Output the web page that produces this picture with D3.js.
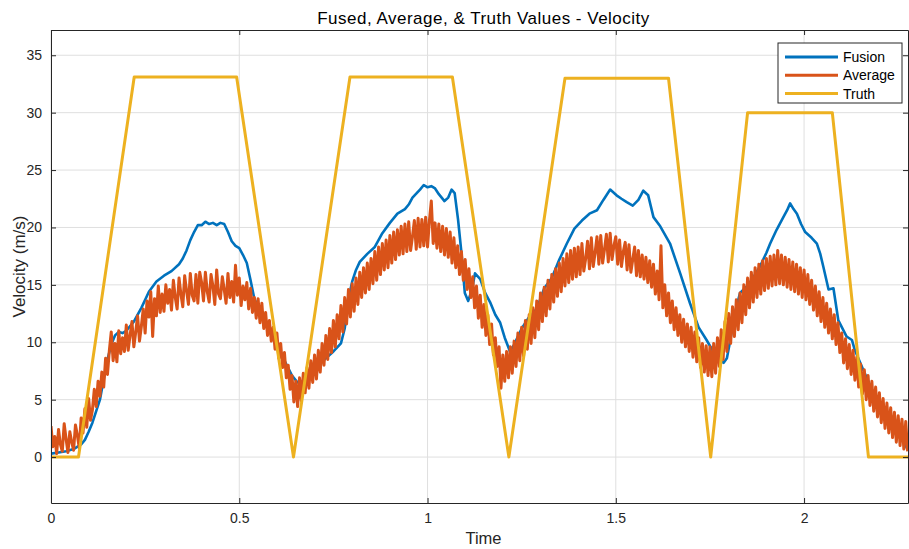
<!DOCTYPE html>
<html>
<head>
<meta charset="utf-8">
<script src="https://cdn.jsdelivr.net/npm/d3@7"></script>
<style>
  body { margin: 0; background: #fff; }
  svg { display: block; font-family: "Liberation Sans", Arial, Helvetica, sans-serif; }
</style>
</head>
<body>
<svg id="chart" width="909" height="549"></svg>
<script>
// truth profile (corner points)
var truthTime = [0, 0.073, 0.221, 0.493, 0.644, 0.794, 1.066, 1.216, 1.365, 1.640, 1.752, 1.850, 2.075, 2.171, 2.276]
var truthVel  = [0, 0, 33.1, 33.1, 0, 33.1, 33.1, 0, 33.0, 33.0, 0, 30.0, 30.0, 0, 0]

// fused estimate
var fusionTime = [0, 0.02, 0.04, 0.06, 0.08, 0.09, 0.10, 0.11, 0.12, 0.13, 0.14, 0.15, 0.16, 0.17, 0.18, 0.19,
  0.20, 0.22, 0.24, 0.26, 0.28, 0.30, 0.32, 0.34, 0.35, 0.36, 0.37, 0.38, 0.39, 0.40, 0.41, 0.42, 0.43, 0.44,
  0.45, 0.46, 0.47, 0.48, 0.49, 0.50, 0.51, 0.52, 0.53, 0.54, 0.56, 0.58, 0.60, 0.62, 0.64, 0.655, 0.67, 0.69,
  0.71, 0.73, 0.75, 0.77, 0.78, 0.79, 0.80, 0.81, 0.82, 0.84, 0.86, 0.88, 0.90, 0.92, 0.94, 0.95, 0.96, 0.98,
  0.99, 1.00, 1.01, 1.02, 1.03, 1.045, 1.055, 1.064, 1.072, 1.081, 1.090, 1.099, 1.108, 1.118, 1.126, 1.14,
  1.153, 1.166, 1.18, 1.193, 1.205, 1.219, 1.23, 1.25, 1.27, 1.29, 1.31, 1.33, 1.35, 1.37, 1.39, 1.41, 1.43,
  1.45, 1.467, 1.485, 1.502, 1.515, 1.529, 1.545, 1.56, 1.573, 1.586, 1.60, 1.618, 1.644, 1.671, 1.697, 1.72,
  1.741, 1.764, 1.786, 1.795, 1.803, 1.815, 1.830, 1.852, 1.868, 1.883, 1.90, 1.91, 1.927, 1.945, 1.955,
  1.963, 1.972, 1.981, 1.992, 2.003, 2.02, 2.034, 2.043, 2.051, 2.065, 2.078, 2.091, 2.113, 2.127, 2.135,
  2.157, 2.184, 2.205, 2.228, 2.25, 2.276]
var fusionVel = [0.3, 0.4, 0.5, 0.7, 1.1, 1.5, 2.2, 3.0, 4.0, 5.0, 6.8, 8.5, 9.8, 10.6, 10.9, 10.8,
  11.0, 11.8, 13.0, 14.4, 15.3, 15.8, 16.2, 16.8, 17.3, 18.0, 18.9, 19.6, 20.2, 20.2, 20.5, 20.3, 20.4, 20.2,
  20.4, 20.3, 19.6, 18.8, 18.4, 18.2, 17.6, 16.9, 15.4, 13.8, 12.4, 11.0, 9.9, 8.4, 7.1, 6.5, 6.6, 7.2,
  8.0, 8.6, 9.2, 9.9, 11.2, 13.8, 15.3, 16.3, 17.0, 17.7, 18.3, 19.5, 20.4, 21.2, 21.6, 22.0, 22.6, 23.3,
  23.7, 23.5, 23.6, 23.4, 22.9, 22.3, 22.6, 23.3, 23.0, 20.7, 17.8, 14.3, 13.6, 14.6, 16.0, 15.5,
  14.3, 13.5, 12.4, 11.7, 10.4, 9.2, 9.8, 11.2, 12.2, 12.9, 14.7, 15.6, 17.2, 18.6, 19.9, 20.6, 21.2,
  21.5, 22.4, 23.3, 22.8, 22.5, 22.2, 21.9, 22.4, 23.2, 22.8, 20.9, 20.1, 18.6, 16.0, 13.4, 11.3,
  10.2, 8.9, 8.2, 8.6, 10.0, 12.4, 14.3, 15.0, 15.8, 16.6, 17.8, 18.6, 19.8, 20.9, 21.5,
  22.1, 21.6, 21.2, 20.3, 19.6, 19.1, 18.6, 17.7, 16.6, 14.6, 14.7, 11.9, 10.5, 10.2, 9.3,
  7.6, 5.6, 4.6, 3.5, 2.2, 0.6]

// plain average, sampled every 0.005 s (one row = 0.1 s)
var avgStep = 0.005
var avgVel = [
  2.7, 0.9, 1.8, 0.3, 2.4, 1.1, 0.5, 2.9, 1.6, 0.4, 2.2, 1.3, 0.6, 2.8, 1.9, 0.8, 3.4, 2.1, 4.2, 2.6,
  5.1, 3.2, 4.1, 5.9, 4.4, 6.6, 5.3, 7.4, 6.1, 8.6, 7.2, 9.3, 10.9, 8.4, 9.9, 8.3, 11.0, 9.0, 10.4, 9.2,
  11.5, 9.3, 10.6, 11.8, 9.6, 10.9, 12.3, 10.1, 11.4, 12.9, 10.8, 13.6, 12.2, 14.4, 10.5, 13.8, 12.3, 14.9, 12.6, 14.2,
  12.7, 15.0, 13.4, 14.6, 12.8, 15.4, 13.9, 12.9, 15.6, 14.2, 13.1, 15.8, 14.5, 13.3, 16.0, 14.1, 13.6, 15.9, 13.4, 16.1,
  15.2, 13.6, 16.1, 14.4, 13.5, 15.9, 14.9, 13.3, 16.3, 14.2, 13.8, 15.7, 14.6, 13.4, 16.0, 13.9, 15.3, 13.5, 16.7, 14.1,
  15.6, 13.2, 14.9, 13.7, 15.2, 12.9, 14.7, 12.6, 13.9, 12.1, 13.8, 11.7, 13.4, 11.2, 12.6, 10.6, 11.9, 10.1, 11.3, 9.4,
  10.8, 8.6, 9.9, 7.8, 9.1, 6.9, 8.0, 5.9, 7.1, 4.8, 6.6, 4.4, 6.9, 4.9, 7.3, 5.6, 7.8, 6.0, 8.4, 6.5,
  8.9, 6.8, 9.3, 7.4, 9.9, 8.0, 10.6, 8.5, 11.2, 9.1, 11.9, 9.6, 12.4, 10.3, 13.2, 10.9, 13.9, 11.6, 14.6, 12.2,
  15.1, 12.7, 15.6, 13.3, 16.1, 13.9, 16.5, 14.3, 16.9, 14.6, 17.3, 15.1, 17.9, 15.4, 18.3, 15.9, 18.6, 16.3, 18.9, 16.5,
  19.3, 16.9, 19.6, 17.2, 19.8, 17.6, 20.1, 17.7, 20.3, 17.9, 20.5, 18.0, 19.2, 20.6, 18.1, 20.8, 18.3, 20.7, 18.4, 20.9,
  18.3, 20.6, 22.3, 18.6, 20.4, 18.2, 20.3, 17.9, 20.1, 17.6, 19.9, 17.4, 19.6, 16.9, 19.1, 16.5, 18.4, 15.9, 17.9, 15.4,
  17.2, 14.6, 16.4, 13.9, 15.7, 13.0, 14.9, 12.1, 14.1, 11.3, 13.3, 10.6, 12.4, 9.8, 11.6, 8.9, 10.4, 7.9, 9.6, 6.0,
  8.9, 6.6, 9.2, 6.9, 9.6, 7.3, 10.1, 7.9, 10.8, 8.4, 11.3, 8.8, 11.9, 9.4, 12.4, 9.9, 13.0, 10.4, 13.6, 11.1,
  14.3, 11.8, 14.8, 12.3, 15.4, 12.9, 15.9, 13.5, 16.4, 14.0, 16.9, 14.4, 17.3, 14.9, 17.7, 15.2, 18.0, 15.5, 18.2, 15.7,
  18.3, 15.9, 18.6, 16.2, 17.3, 18.8, 16.4, 19.1, 16.6, 17.8, 19.2, 16.8, 19.3, 16.9, 18.1, 19.4, 17.0, 19.5, 17.2, 18.4,
  19.2, 16.8, 18.9, 16.6, 17.9, 18.7, 16.3, 18.5, 16.1, 17.2, 18.3, 15.8, 18.0, 15.7, 17.6, 15.5, 17.4, 15.2, 17.1, 14.8,
  16.8, 14.2, 16.2, 13.7, 18.4, 13.0, 15.0, 12.3, 14.3, 11.7, 13.6, 11.1, 13.0, 10.6, 12.4, 10.0, 12.0, 9.6, 11.6, 9.2,
  11.3, 8.7, 10.9, 8.3, 10.4, 7.8, 9.9, 7.4, 9.7, 7.1, 9.6, 7.0, 9.9, 7.3, 10.4, 7.9, 11.1, 8.5, 11.8, 9.2,
  12.5, 9.9, 13.1, 10.5, 13.7, 11.1, 14.3, 11.7, 15.0, 12.4, 15.6, 13.0, 16.1, 13.5, 16.5, 13.9, 16.8, 14.2, 17.1, 14.5,
  17.3, 14.7, 17.5, 14.9, 17.6, 15.0, 18.0, 15.1, 17.6, 15.0, 17.4, 14.8, 17.2, 14.6, 17.0, 14.4, 16.8, 14.2, 16.5, 13.9,
  16.3, 13.7, 15.9, 13.3, 15.4, 12.8, 14.9, 12.3, 14.4, 11.8, 13.9, 11.3, 13.4, 10.8, 12.9, 10.3, 12.4, 9.8, 11.7, 9.1,
  10.8, 8.2, 10.3, 7.7, 9.8, 7.2, 9.3, 6.7, 8.7, 6.1, 8.1, 5.5, 7.6, 5.0, 7.1, 4.5, 6.6, 4.0, 6.1, 3.5,
  5.6, 3.0, 5.1, 2.5, 4.7, 2.1, 4.3, 1.7, 3.9, 1.3, 3.6, 1.0, 3.3, 0.7, 3.1, 0.5]

var xTicks = [0, 0.5, 1, 1.5, 2]
var yTicks = [0, 5, 10, 15, 20, 25, 30, 35]
var seriesNames = ['Fusion', 'Average', 'Truth']
var seriesColors = ['#0072BD', '#D95319', '#EDB120']

var svg = d3.select('#chart')
var margin = { left: 51, right: 1, top: 30, bottom: 46 }
var W = 909, H = 549
var x = d3.scaleLinear().domain([0, 2.276]).range([margin.left, W - margin.right])
var y = d3.scaleLinear().domain([-4, 37.2]).range([H - margin.bottom, margin.top])

var axisColor = '#262626'

// grid
svg.append('g').selectAll('line').data(xTicks).enter().append('line')
  .attr('x1', function (d) { return x(d) }).attr('x2', function (d) { return x(d) })
  .attr('y1', y.range()[0]).attr('y2', y.range()[1])
  .attr('stroke', '#dfdfdf').attr('stroke-width', 1)
svg.append('g').selectAll('line').data(yTicks).enter().append('line')
  .attr('y1', function (d) { return y(d) }).attr('y2', function (d) { return y(d) })
  .attr('x1', x.range()[0]).attr('x2', x.range()[1])
  .attr('stroke', '#dfdfdf').attr('stroke-width', 1)

svg.append('clipPath').attr('id', 'plotclip').append('rect')
  .attr('x', x.range()[0]).attr('y', y.range()[1])
  .attr('width', x.range()[1] - x.range()[0]).attr('height', y.range()[0] - y.range()[1])

var line = d3.line()
  .x(function (d) { return x(d[0]) })
  .y(function (d) { return y(d[1]) })

var fusionData = fusionTime.map(function (t, i) { return [t, fusionVel[i]] })
var avgData = avgVel.map(function (v, i) { return [i * avgStep, v] })
var truthData = truthTime.map(function (t, i) { return [t, truthVel[i]] })

var plot = svg.append('g').attr('clip-path', 'url(#plotclip)')
plot.append('path').datum(fusionData).attr('d', line)
  .attr('fill', 'none').attr('stroke', seriesColors[0]).attr('stroke-width', 2.6)
  .attr('stroke-linejoin', 'round')
plot.append('path').datum(avgData).attr('d', line)
  .attr('fill', 'none').attr('stroke', seriesColors[1]).attr('stroke-width', 3)
  .attr('stroke-linejoin', 'round')
plot.append('path').datum(truthData).attr('d', line)
  .attr('fill', 'none').attr('stroke', seriesColors[2]).attr('stroke-width', 3)
  .attr('stroke-linejoin', 'round')

// axes, MATLAB style: ticks inside, box on
var xAxis = d3.axisBottom(x).tickValues(xTicks).tickSizeInner(-5).tickSizeOuter(0)
  .tickPadding(10).tickFormat(d3.format('~g'))
var yAxis = d3.axisLeft(y).tickValues(yTicks).tickSizeInner(-5).tickSizeOuter(0)
  .tickPadding(9)

var gx = svg.append('g').attr('transform', 'translate(0,' + y.range()[0] + ')').call(xAxis)
var gy = svg.append('g').attr('transform', 'translate(' + x.range()[0] + ',0)').call(yAxis)
var gxTop = svg.append('g').attr('transform', 'translate(0,' + y.range()[1] + ')')
  .call(d3.axisTop(x).tickValues(xTicks).tickSizeInner(-5).tickSizeOuter(0).tickFormat(''))
var gyRight = svg.append('g').attr('transform', 'translate(' + x.range()[1] + ',0)')
  .call(d3.axisRight(y).tickValues(yTicks).tickSizeInner(-5).tickSizeOuter(0).tickFormat(''))

;[gx, gy, gxTop, gyRight].forEach(function (g) {
  g.select('.domain').attr('stroke', axisColor).attr('stroke-width', 1)
  g.selectAll('.tick line').attr('stroke', axisColor)
  g.selectAll('.tick text').attr('fill', axisColor).style('font-size', '14px')
    .style('font-family', '"Liberation Sans", Arial, sans-serif')
})

// labels
svg.append('text').attr('x', (x.range()[0] + x.range()[1]) / 2 + 4).attr('y', 24)
  .attr('text-anchor', 'middle').attr('fill', '#000').style('font-size', '17px')
  .style('letter-spacing', '0.5px')
  .text('Fused, Average, & Truth Values - Velocity')
svg.append('text').attr('x', (x.range()[0] + x.range()[1]) / 2 + 4).attr('y', 544)
  .attr('text-anchor', 'middle').attr('fill', axisColor).style('font-size', '16.5px')
  .text('Time')
svg.append('text').attr('transform', 'translate(25,' + (y.range()[0] + y.range()[1]) / 2 + ') rotate(-90)')
  .attr('text-anchor', 'middle').attr('fill', axisColor).style('font-size', '17px')
  .text('Velocity (m/s)')

// legend
var legend = svg.append('g').attr('transform', 'translate(778,43)')
legend.append('rect').attr('width', 124).attr('height', 60)
  .attr('fill', '#fff').attr('stroke', axisColor).attr('stroke-width', 1)
var item = legend.selectAll('g.item').data(seriesNames).enter().append('g').attr('class', 'item')
  .attr('transform', function (d, i) { return 'translate(0,' + (14 + i * 18.3) + ')' })
item.append('line').attr('x1', 7).attr('x2', 60)
  .attr('stroke', function (d, i) { return seriesColors[i] }).attr('stroke-width', 3)
item.append('text').attr('x', 65).attr('dy', '0.35em').attr('fill', '#000')
  .style('font-size', '14px').text(function (d) { return d })
</script>
</body>
</html>
